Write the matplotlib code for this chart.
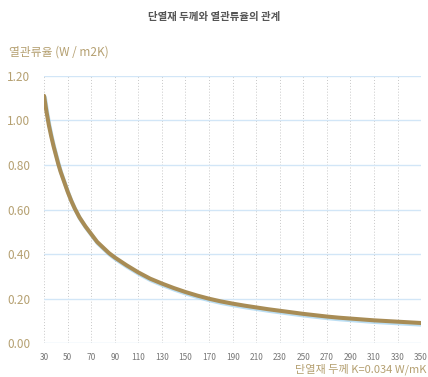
import matplotlib
matplotlib.use("Agg")
import matplotlib.pyplot as plt
import matplotlib.patheffects as pe

plt.rcParams['font.family'] = ['Noto Sans CJK KR', 'DejaVu Sans']

title = "단열재 두께와 열관류율의 관계"
ylabel = "열관류율 (W / m2K)"
xlabel = "단열재 두께 K=0.034 W/mK"

thickness = [30, 32, 34, 36, 38, 40, 42, 44, 46, 48, 50, 53, 56, 60, 65, 70, 75,
             80, 85, 90, 100, 110, 120, 130, 140, 150, 160, 170, 180, 190, 200,
             210, 220, 230, 240, 250, 260, 270, 280, 290, 300, 310, 320, 330,
             340, 350]
u_value = [1.11, 1.04, 0.98, 0.93, 0.885, 0.845, 0.805, 0.77, 0.74, 0.71, 0.68,
           0.64, 0.605, 0.565, 0.525, 0.49, 0.455, 0.43, 0.405, 0.385, 0.35,
           0.318, 0.29, 0.268, 0.248, 0.23, 0.214, 0.2, 0.188, 0.178, 0.169,
           0.161, 0.153, 0.146, 0.139, 0.132, 0.126, 0.12, 0.115, 0.111, 0.107,
           0.103, 0.1, 0.097, 0.094, 0.091]

xticks = list(range(30, 351, 20))
yticks = [0.0, 0.2, 0.4, 0.6, 0.8, 1.0, 1.2]

fig = plt.figure(figsize=(4.28, 3.77), dpi=100)
ax = fig.add_axes([0.103, 0.0894, 0.881, 0.7096])

line_color = "#a88c55"
gold_text = "#b5a071"

ax.plot(thickness, u_value, color=line_color, lw=2.9, solid_capstyle='round',
        solid_joinstyle='round',
        path_effects=[pe.SimpleLineShadow(offset=(0.6, -1.2), shadow_color="#9fd0ee", alpha=0.7),
                      pe.Normal()], zorder=3)

ax.set_xlim(30, 350)
ax.set_ylim(0, 1.2)
ax.set_xticks(xticks)
ax.set_yticks(yticks)
ax.set_xticklabels([str(v) for v in xticks])
ax.set_yticklabels([f"{v:.2f}" for v in yticks])

for s in ax.spines.values():
    s.set_visible(False)

ax.tick_params(axis='both', length=0)
ax.tick_params(axis='y', labelsize=8.5, labelcolor=gold_text, pad=10)
ax.tick_params(axis='x', labelsize=6, labelcolor="#777777", pad=7)

ax.yaxis.grid(True, color="#d2e6f7", lw=1.0, linestyle='-')
ax.xaxis.grid(True, color="#c8c8c8", lw=0.7, linestyle=(0, (1, 2)))
ax.set_axisbelow(True)

fig.text(0.5, 0.955, title, ha='center', va='center', fontsize=7.5,
         color="#555555", fontweight='bold')
fig.text(0.02, 0.862, ylabel, ha='left', va='center', fontsize=8.5, color=gold_text)
fig.text(0.997, 0.02, xlabel, ha='right', va='center', fontsize=8, color=gold_text)

fig.savefig("out.png", dpi=100)
